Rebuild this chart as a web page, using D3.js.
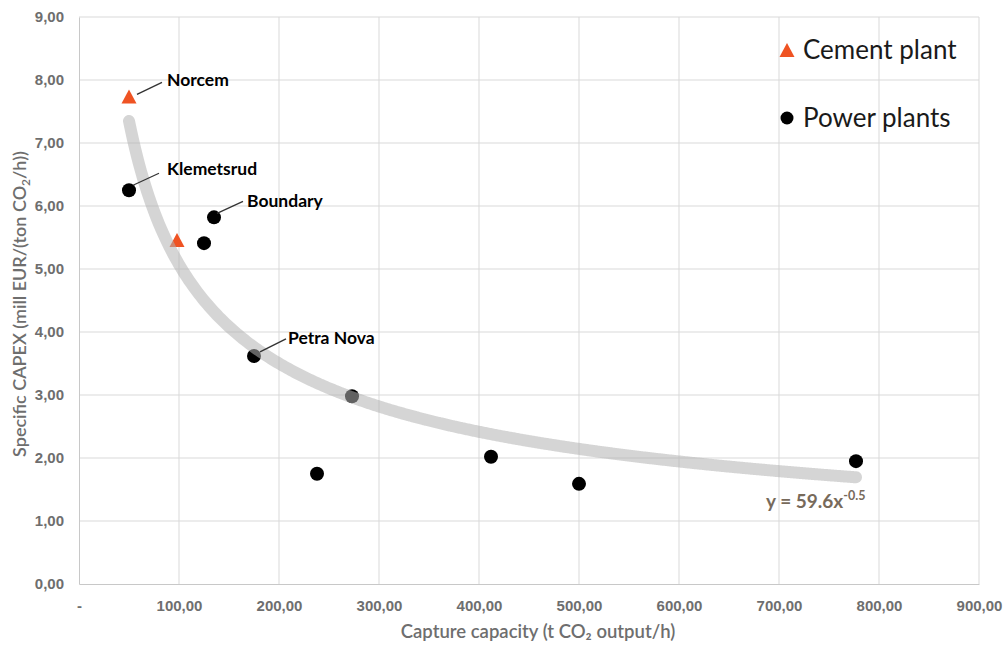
<!DOCTYPE html>
<html>
<head>
<meta charset="utf-8">
<script src="https://cdn.jsdelivr.net/npm/d3@7"></script>
<style>
  html, body { margin: 0; padding: 0; background: #fff; }
  svg { display: block; font-family: Lato, "Open Sans", sans-serif; }
</style>
</head>
<body>
<svg id="chart" width="1006" height="646"></svg>
<script>
// Capture capacity (t CO2/h) and specific CAPEX (mill EUR per t CO2/h)
const cementCapacity = [50, 98];
const cementCapex    = [7.74, 5.46];
const cementNames    = ["Norcem", ""];

const powerCapacity = [50, 135, 125, 175, 273, 238, 412, 500, 777];
const powerCapex    = [6.25, 5.82, 5.41, 3.62, 2.98, 1.75, 2.02, 1.59, 1.95];
const powerNames    = ["Klemetsrud", "Boundary", "", "Petra Nova", "", "", "", "", ""];

// Power-law trendline y = a * x^b
const trendCoef = 59.6;
const trendExp  = -0.535;
const trendRange = [50, 777];

const xTicks = [0, 100, 200, 300, 400, 500, 600, 700, 800, 900];
const yTicks = [0, 1, 2, 3, 4, 5, 6, 7, 8, 9];

const seriesNames = ["Cement plant", "Power plants"];
const xTitle = "Capture capacity (t CO\u2082 output/h)";

const svg = d3.select("#chart");
const plot = { left: 79, right: 979, top: 17, bottom: 584 };

const x = d3.scaleLinear().domain([0, 900]).range([plot.left, plot.right]);
const y = d3.scaleLinear().domain([0, 9]).range([plot.bottom, plot.top]);

// Number formats: decimal comma on the axes, plain hyphen for the exponent sign
const commaLocale = d3.formatLocale({ decimal: ",", thousands: " ", grouping: [3], currency: ["", ""], minus: "-" });
const dotLocale   = d3.formatLocale({ decimal: ".", thousands: ",", grouping: [3], currency: ["", ""], minus: "-" });
const fmt2 = commaLocale.format(".2f");
const fmtX = v => v === 0 ? "-" : fmt2(v);
const fmtExp = dotLocale.format(".1f");

// Gridlines
svg.append("g").selectAll("line").data(yTicks.filter(d => d > 0)).join("line")
  .attr("x1", plot.left).attr("x2", plot.right)
  .attr("y1", d => y(d)).attr("y2", d => y(d))
  .attr("stroke", "#d9d9d9").attr("stroke-width", 1);
svg.append("g").selectAll("line").data(xTicks.filter(d => d > 0)).join("line")
  .attr("x1", d => x(d)).attr("x2", d => x(d))
  .attr("y1", plot.top).attr("y2", plot.bottom)
  .attr("stroke", "#d9d9d9").attr("stroke-width", 1);

// Axes
const xAxis = svg.append("g").attr("transform", `translate(0,${plot.bottom})`)
  .call(d3.axisBottom(x).tickValues(xTicks).tickFormat(fmtX).tickSize(0).tickPadding(16));
xAxis.select(".domain").attr("stroke", "#c8c8c8");
xAxis.selectAll("text").attr("fill", "#6e6e6e").attr("font-size", 15).attr("font-weight", 600);

const yAxis = svg.append("g").attr("transform", `translate(${plot.left},0)`)
  .call(d3.axisLeft(y).tickValues(yTicks).tickFormat(fmt2).tickSize(0).tickPadding(15));
yAxis.select(".domain").attr("stroke", "#c8c8c8");
yAxis.selectAll("text").attr("fill", "#6e6e6e").attr("font-size", 15).attr("font-weight", 700);

// Axis titles
svg.append("text")
  .attr("x", 538).attr("y", 638).attr("text-anchor", "middle")
  .attr("fill", "#6e6e6e").attr("font-size", 18.5).attr("font-weight", 600)
  .text(xTitle);

const yt = svg.append("text")
  .attr("transform", `translate(26,${304}) rotate(-90)`)
  .attr("text-anchor", "middle").attr("fill", "#6e6e6e")
  .attr("font-size", 18).attr("font-weight", 600);
yt.append("tspan").text("Specific CAPEX (mill EUR/(ton CO");
yt.append("tspan").attr("font-size", 12).attr("dy", 4).text("2");
yt.append("tspan").attr("dy", -4).text("/h))");

// Triangle marker centred on its bounding box
const triangleType = {
  draw(ctx, size) {
    const w = 15, h = 14;
    ctx.moveTo(0, -h / 2);
    ctx.lineTo(w / 2, h / 2);
    ctx.lineTo(-w / 2, h / 2);
    ctx.closePath();
  }
};
const triangle = d3.symbol().type(triangleType);

const cement = cementCapacity.map((c, i) => ({ x: c, y: cementCapex[i], name: cementNames[i] }));
const power  = powerCapacity.map((c, i) => ({ x: c, y: powerCapex[i], name: powerNames[i] }));

svg.append("g").selectAll("path").data(cement).join("path")
  .attr("d", triangle)
  .attr("transform", d => `translate(${x(d.x)},${y(d.y)})`)
  .attr("fill", "#ef5323");

svg.append("g").selectAll("circle").data(power).join("circle")
  .attr("cx", d => x(d.x)).attr("cy", d => y(d.y)).attr("r", 7)
  .attr("fill", "#000");

// Trendline (semi-transparent, drawn over the markers)
const trendPts = d3.range(trendRange[0], trendRange[1] + 0.1, 2)
  .concat([trendRange[1]])
  .map(v => [v, trendCoef * Math.pow(v, trendExp)]);
svg.append("path")
  .datum(trendPts)
  .attr("d", d3.line().x(d => x(d[0])).y(d => y(d[1])).curve(d3.curveMonotoneX))
  .attr("fill", "none")
  .attr("stroke", "rgb(178,178,178)").attr("stroke-opacity", 0.55)
  .attr("stroke-width", 12).attr("stroke-linecap", "round");

// Point annotations with leader lines
const leaders = {
  "Norcem":     { l: [8, -2, 33, -14], t: [38, -10] },
  "Klemetsrud": { l: [4, -5, 30, -17], t: [38, -15] },
  "Boundary":   { l: [3, -4, 29, -16], t: [33, -10] },
  "Petra Nova": { l: [6, -4, 32, -17], t: [34, -12] }
};
const labelled = cement.concat(power).filter(d => d.name);
const ann = svg.append("g");
labelled.forEach(d => {
  const o = leaders[d.name];
  const px = x(d.x), py = y(d.y);
  ann.append("line")
    .attr("x1", px + o.l[0]).attr("y1", py + o.l[1])
    .attr("x2", px + o.l[2]).attr("y2", py + o.l[3])
    .attr("stroke", "#333").attr("stroke-width", 1.3);
  ann.append("text")
    .attr("x", px + o.t[0]).attr("y", py + o.t[1])
    .attr("font-size", 17.5).attr("font-weight", 700).attr("fill", "#000")
    .text(d.name);
});

// Trendline equation
const eq = svg.append("text")
  .attr("x", 766).attr("y", 508)
  .attr("fill", "#776a5b").attr("font-size", 19).attr("font-weight", 700);
eq.append("tspan").text(`y = ${trendCoef}x`);
eq.append("tspan").attr("font-size", 12.5).attr("dy", -8).text(fmtExp(trendExp));

// Legend
const legend = svg.append("g");
legend.append("path").attr("d", triangle)
  .attr("transform", "translate(787,50)").attr("fill", "#ef5323");
legend.append("text").attr("x", 803).attr("y", 59)
  .attr("font-size", 26).attr("fill", "#1a1a1a").text(seriesNames[0]);
legend.append("circle").attr("cx", 787).attr("cy", 118).attr("r", 6.5).attr("fill", "#000");
legend.append("text").attr("x", 803).attr("y", 127)
  .attr("font-size", 26).attr("fill", "#1a1a1a").text(seriesNames[1]);
</script>
</body>
</html>
